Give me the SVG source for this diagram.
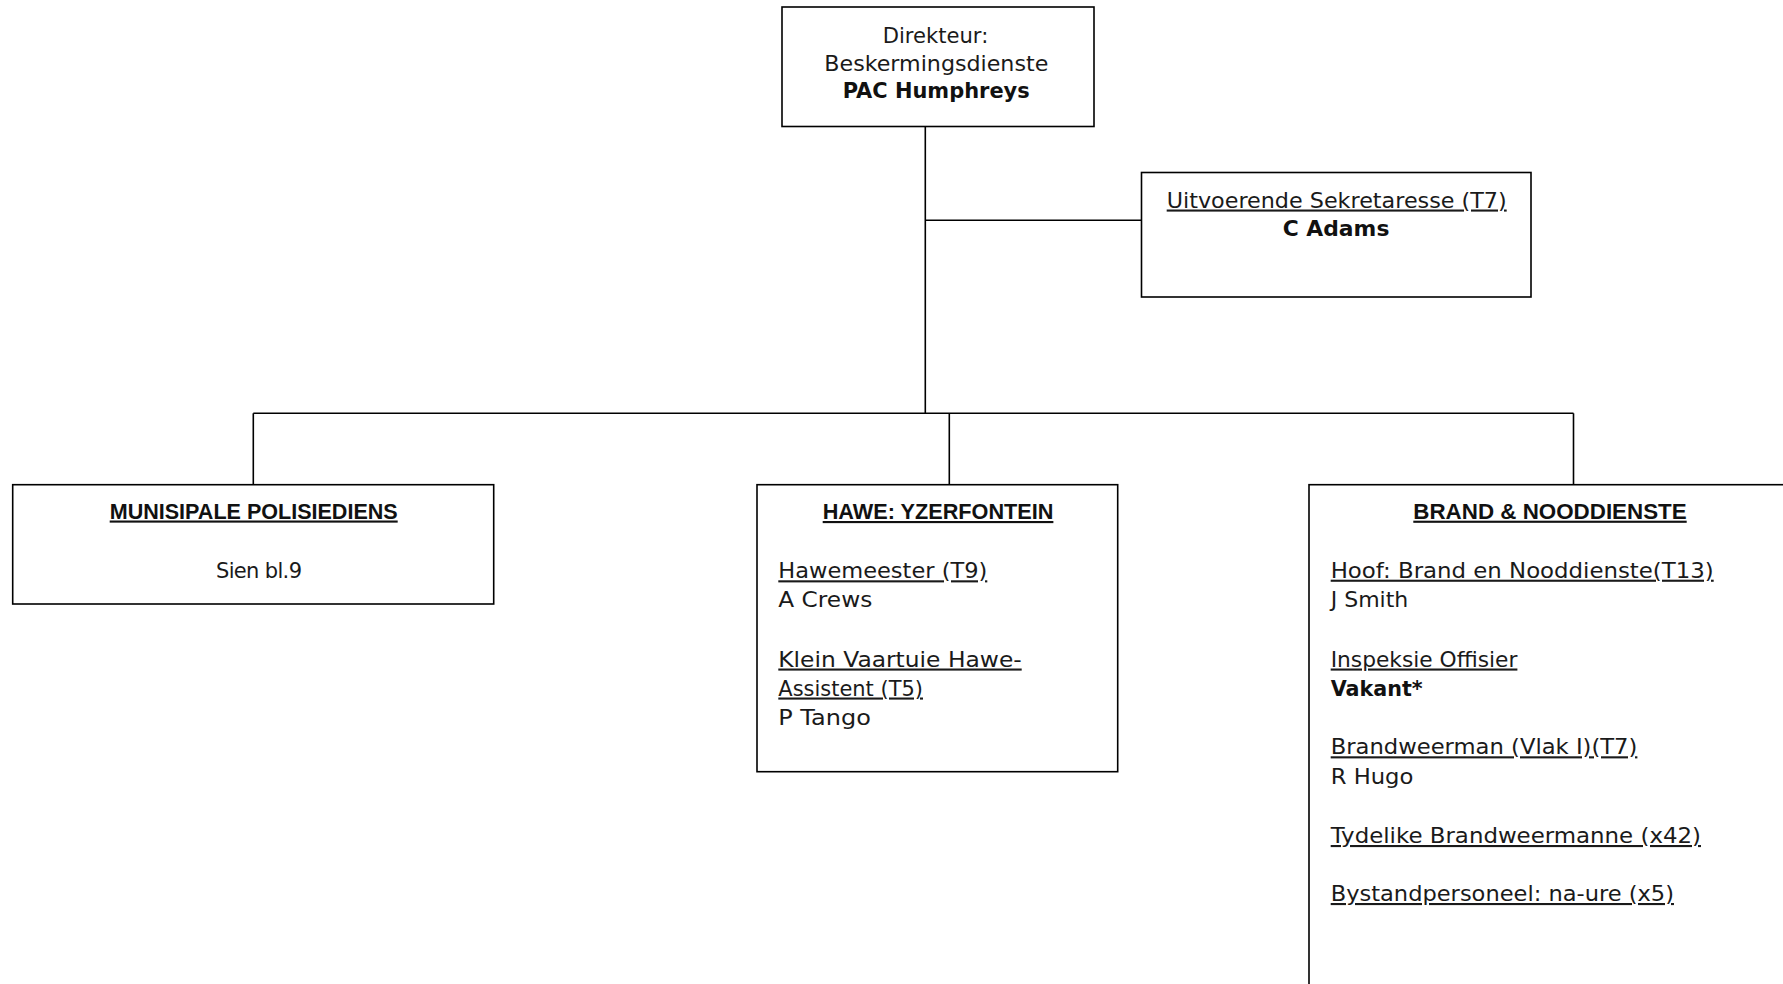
<svg xmlns="http://www.w3.org/2000/svg" width="1783" height="984" viewBox="0 0 1783 984">
<style>
.box{fill:#fff;stroke:#000;stroke-width:1.6}
.ln{fill:none;stroke:#000;stroke-width:1.6}
.t{font-family:"DejaVu Sans",sans-serif;font-size:21px;fill:#1a1a1a}
.b{font-family:"DejaVu Sans",sans-serif;font-size:21px;font-weight:bold;fill:#111}
.h{font-family:"Liberation Sans",Arial,sans-serif;font-size:21.3px;font-weight:bold;fill:#111;text-decoration:underline}
.u{text-decoration:underline}
</style>
<rect width="1783" height="984" fill="#fff"/>
<g id="connectors">
<line class="ln" x1="925.3" y1="126.5" x2="925.3" y2="413.3"/>
<line class="ln" x1="925.3" y1="220.3" x2="1141.5" y2="220.3"/>
<line class="ln" x1="253.3" y1="413.3" x2="1573.5" y2="413.3"/>
<line class="ln" x1="253.3" y1="413.3" x2="253.3" y2="484.7"/>
<line class="ln" x1="949.3" y1="413.3" x2="949.3" y2="484.7"/>
<line class="ln" x1="1573.5" y1="413.3" x2="1573.5" y2="484.7"/>
</g>
<g id="direkteur">
<rect class="box" x="782" y="7" width="312" height="119.5"/>
<text class="t" x="882.7" y="42.5" textLength="105.6" lengthAdjust="spacingAndGlyphs">Direkteur:</text>
<text class="t" x="824.3" y="70.5" textLength="224" lengthAdjust="spacingAndGlyphs">Beskermingsdienste</text>
<text class="b" x="842.7" y="97.5" textLength="187" lengthAdjust="spacingAndGlyphs">PAC Humphreys</text>
</g>
<g id="sekretaresse">
<rect class="box" x="1141.5" y="172.5" width="389.5" height="124.5"/>
<text class="t u" x="1166.7" y="207.5" textLength="340" lengthAdjust="spacingAndGlyphs">Uitvoerende Sekretaresse (T7)</text>
<text class="b" x="1282.7" y="236" textLength="106.7" lengthAdjust="spacingAndGlyphs">C Adams</text>
</g>
<g id="polisiediens">
<rect class="box" x="12.7" y="484.7" width="481" height="119.3"/>
<text class="h" x="109.7" y="518.5" textLength="288" lengthAdjust="spacingAndGlyphs">MUNISIPALE POLISIEDIENS</text>
<text class="t" x="216" y="578" textLength="86" lengthAdjust="spacing">Sien bl.9</text>
</g>
<g id="hawe">
<rect class="box" x="757" y="484.7" width="360.7" height="287"/>
<text class="h" x="822.7" y="519" textLength="230.7" lengthAdjust="spacingAndGlyphs">HAWE: YZERFONTEIN</text>
<text class="t u" x="778.3" y="578.3" textLength="209" lengthAdjust="spacingAndGlyphs">Hawemeester (T9)</text>
<text class="t" x="778.3" y="607" textLength="94" lengthAdjust="spacingAndGlyphs">A Crews</text>
<text class="t u" x="778.3" y="666.5" textLength="243.4" lengthAdjust="spacingAndGlyphs">Klein Vaartuie Hawe-</text>
<text class="t u" x="778.3" y="695.5" textLength="144.7" lengthAdjust="spacingAndGlyphs">Assistent (T5)</text>
<text class="t" x="778.3" y="724.5" textLength="92.5" lengthAdjust="spacingAndGlyphs">P Tango</text>
</g>
<g id="brand">
<rect class="box" x="1309" y="484.7" width="520" height="560"/>
<text class="h" x="1413.3" y="518.7" textLength="273.4" lengthAdjust="spacingAndGlyphs">BRAND &amp; NOODDIENSTE</text>
<text class="t u" x="1330.7" y="577.7" textLength="383" lengthAdjust="spacingAndGlyphs">Hoof: Brand en Nooddienste(T13)</text>
<text class="t" x="1330.7" y="607" textLength="77.6" lengthAdjust="spacingAndGlyphs">J Smith</text>
<text class="t u" x="1330.7" y="666.5" textLength="186.7" lengthAdjust="spacingAndGlyphs">Inspeksie Offisier</text>
<text class="b" x="1330.7" y="695.7" textLength="92" lengthAdjust="spacingAndGlyphs">Vakant*</text>
<text class="t u" x="1330.7" y="754.3" textLength="306.7" lengthAdjust="spacingAndGlyphs">Brandweerman (Vlak I)(T7)</text>
<text class="t" x="1330.7" y="783.5" textLength="82.7" lengthAdjust="spacingAndGlyphs">R Hugo</text>
<text class="t u" x="1330.7" y="843" textLength="370.3" lengthAdjust="spacingAndGlyphs">Tydelike Brandweermanne (x42)</text>
<text class="t u" x="1330.7" y="901" textLength="343.3" lengthAdjust="spacingAndGlyphs">Bystandpersoneel: na-ure (x5)</text>
</g>
</svg>
